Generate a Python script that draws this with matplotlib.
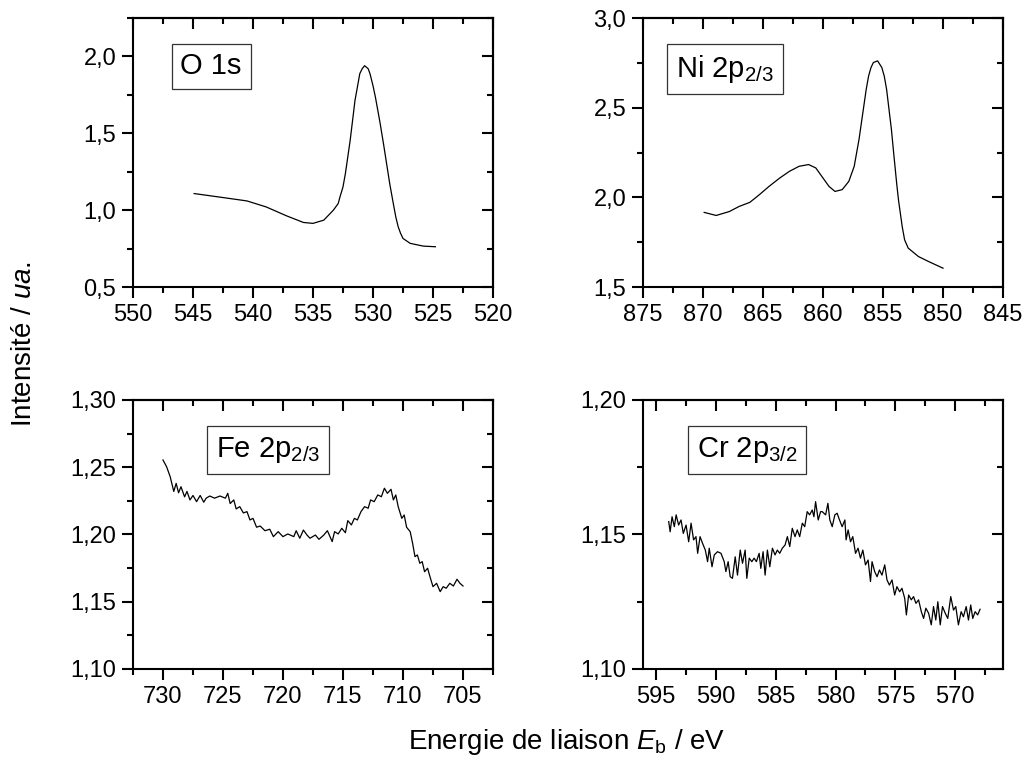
import matplotlib
matplotlib.use('Agg')
import matplotlib.pyplot as plt
from matplotlib.ticker import MultipleLocator, FuncFormatter, NullFormatter

plt.rcParams['font.family'] = ['Liberation Sans', 'DejaVu Sans']
plt.rcParams['mathtext.fontset'] = 'custom'
plt.rcParams['mathtext.rm'] = 'Liberation Sans'
plt.rcParams['mathtext.it'] = 'Liberation Sans:italic'

# O 1s
o_e = [544.9, 542.5, 540.5, 538.9, 537.2, 535.8, 535.0, 534.1, 533.3, 532.9, 532.75, 532.5,
       532.3, 532.1, 531.9, 531.7, 531.5, 531.3, 531.1, 530.9, 530.7, 530.4, 530.25, 530.0,
       529.8, 529.6, 529.4, 529.1, 528.9, 528.6, 528.3, 528.1, 527.9, 527.7, 527.5, 526.9,
       525.8, 524.8]
o_i = [1.108, 1.082, 1.06, 1.021, 0.963, 0.92, 0.914, 0.935, 1.0, 1.043, 1.086, 1.151,
       1.238, 1.346, 1.455, 1.584, 1.714, 1.80, 1.888, 1.92, 1.94, 1.92, 1.888, 1.81,
       1.736, 1.65, 1.563, 1.42, 1.32, 1.17, 1.04, 0.956, 0.892, 0.849, 0.816, 0.784,
       0.766, 0.762]

# Ni 2p
ni_e = [869.9, 868.9, 867.8, 867.0, 866.1, 865.3, 864.5, 863.6, 862.8, 862.0, 861.2, 860.6,
        860.1, 859.5, 859.0, 858.4, 857.85, 857.4, 857.2, 857.0, 856.8, 856.6, 856.4, 856.2,
        856.0, 855.8, 855.45, 855.1, 854.9, 854.7, 854.5, 854.3, 854.1, 853.85, 853.7, 853.4,
        853.2, 852.9, 852.05, 851.2, 850.0]
ni_i = [1.916, 1.899, 1.921, 1.949, 1.972, 2.015, 2.061, 2.108, 2.145, 2.173, 2.183, 2.164,
        2.117, 2.061, 2.033, 2.043, 2.089, 2.173, 2.248, 2.323, 2.416, 2.509, 2.602, 2.677,
        2.724, 2.752, 2.761, 2.724, 2.677, 2.602, 2.49, 2.379, 2.239, 2.07, 1.98, 1.837,
        1.763, 1.717, 1.670, 1.642, 1.605]

# Fe 2p
fe_e = [730.0, 729.7, 729.4, 729.1, 728.9, 728.7, 728.5, 728.2, 728.0, 727.75, 727.5, 727.2,
        726.9, 726.6, 726.4, 726.1, 725.7, 725.25, 724.8, 724.6, 724.4, 724.1, 723.9, 723.6,
        723.3, 723.0, 722.75, 722.5, 722.2, 721.9, 721.5, 721.1, 720.8, 720.4, 720.0, 719.6,
        719.1, 718.9, 718.6, 718.3, 718.0, 717.75, 717.3, 717.0, 716.6, 716.3, 715.9, 715.7,
        715.4, 715.1, 714.8, 714.6, 714.3, 714.05, 713.8, 713.5, 713.2, 712.9, 712.7, 712.4,
        712.1, 711.8, 711.55, 711.3, 711.0, 710.8, 710.6, 710.4, 710.1, 709.9, 709.7, 709.4,
        709.2, 709.0, 708.8, 708.6, 708.4, 708.2, 707.95, 707.75, 707.5, 707.2, 706.9, 706.65,
        706.4, 706.1, 705.8, 705.5, 705.25, 705.0]
fe_i = [1.2554, 1.2504, 1.243, 1.232, 1.238, 1.231, 1.2355, 1.228, 1.232, 1.2257, 1.229, 1.2244,
        1.229, 1.224, 1.227, 1.2286, 1.227, 1.2286, 1.227, 1.2306, 1.223, 1.2257, 1.219, 1.2207,
        1.216, 1.217, 1.2108, 1.212, 1.2054, 1.2063, 1.2028, 1.2039, 1.1984, 1.2021, 1.1984, 1.2004,
        1.1984, 1.2028, 1.1972, 1.2033, 1.1996, 1.1972, 1.1996, 1.1964, 1.1996, 1.2028, 1.1947, 1.2021,
        1.2004, 1.2046, 1.2013, 1.2103, 1.2071, 1.212, 1.2108, 1.217, 1.2207, 1.2195, 1.2257, 1.2244,
        1.2294, 1.2281, 1.2344, 1.2306, 1.2336, 1.2257, 1.2294, 1.2207, 1.212, 1.2145, 1.2054, 1.2021,
        1.1935, 1.1835, 1.1848, 1.1786, 1.1798, 1.1723, 1.1749, 1.1686, 1.1612, 1.1637, 1.1575, 1.1612,
        1.16, 1.1637, 1.1617, 1.1667, 1.1637, 1.1617]

# Cr 2p
cr_e = [593.95, 593.83, 593.67, 593.48, 593.33, 593.12, 592.92, 592.73, 592.5, 592.28, 592.08, 591.87,
        591.67, 591.53, 591.33, 591.12, 590.89, 590.7, 590.56, 590.33, 590.14, 589.87, 589.58, 589.31,
        589.17, 588.98, 588.81, 588.62, 588.39, 588.2, 587.97, 587.78, 587.56, 587.42, 587.22, 587.0,
        586.81, 586.62, 586.39, 586.25, 586.06, 585.89, 585.7, 585.5, 585.28, 585.06, 584.87, 584.67,
        584.45, 584.22, 584.03, 583.83, 583.62, 583.39, 583.2, 583.0, 582.78, 582.58, 582.37, 582.17,
        581.95, 581.81, 581.67, 581.45, 581.25, 581.12, 580.83, 580.64, 580.48, 580.28, 580.06, 579.87,
        579.67, 579.45, 579.22, 579.12, 578.95, 578.75, 578.56, 578.33, 578.12, 577.92, 577.72, 577.5,
        577.28, 577.08, 576.95, 576.73, 576.53, 576.33, 576.12, 575.89, 575.7, 575.5, 575.28, 575.06,
        574.87, 574.64, 574.45, 574.22, 574.08, 573.89, 573.67, 573.48, 573.28, 573.06, 572.83, 572.64,
        572.45, 572.22, 572.0, 571.81, 571.62, 571.45, 571.25, 571.06, 570.83, 570.62, 570.37, 570.14,
        569.95, 569.73, 569.5, 569.31, 569.08, 568.89, 568.7, 568.53, 568.33, 568.12, 567.92]
cr_i = [1.1548, 1.151, 1.1566, 1.1529, 1.1573, 1.1535, 1.1554, 1.1504, 1.1535, 1.1473, 1.1542, 1.148,
        1.1492, 1.143, 1.1492, 1.1467, 1.1442, 1.1399, 1.1449, 1.138, 1.1424, 1.1436, 1.143, 1.1399,
        1.1362, 1.1399, 1.1343, 1.1337, 1.1417, 1.1349, 1.1442, 1.1393, 1.1442, 1.1337, 1.1412, 1.1399,
        1.1412, 1.1399, 1.143, 1.1374, 1.1436, 1.1349, 1.1442, 1.138, 1.1449, 1.1424, 1.1442, 1.143,
        1.1449, 1.1461, 1.1492, 1.1455, 1.1523, 1.1492, 1.1517, 1.1492, 1.1542, 1.1529, 1.1585, 1.1573,
        1.1591, 1.1566, 1.1622, 1.1554, 1.1585, 1.1585, 1.1573, 1.1616, 1.1554, 1.1529, 1.1573, 1.1579,
        1.1554, 1.1529, 1.1554, 1.148, 1.1517, 1.1473, 1.1492, 1.143, 1.1449, 1.1412, 1.1442, 1.1387,
        1.1405, 1.1325, 1.1399, 1.1362, 1.1343, 1.1368, 1.1349, 1.1387, 1.1331, 1.1312, 1.1331, 1.1275,
        1.1306, 1.1287, 1.13, 1.1263, 1.1201, 1.1275, 1.1257, 1.1269, 1.1244, 1.1257, 1.1213, 1.1188,
        1.1226, 1.1207, 1.1164, 1.1232, 1.1182, 1.125, 1.1164, 1.1232, 1.1207, 1.1188, 1.1269, 1.1219,
        1.1232, 1.1164, 1.1213, 1.1194, 1.1232, 1.1182, 1.1238, 1.1188, 1.1213, 1.1201, 1.1222]

labels = ['O 1s', r'$\mathregular{Ni\ 2p_{2/3}}$', r'$\mathregular{Fe\ 2p_{2/3}}$', r'$\mathregular{Cr\ 2p_{3/2}}$']


def comma_fmt(nd):
    return FuncFormatter(lambda v, pos: f"{v:.{nd}f}".replace('.', ','))


def set_ticks(axis, step, direction):
    axis.set_major_locator(MultipleLocator(step))
    axis.set_minor_locator(MultipleLocator(step / 2))


fig = plt.figure(figsize=(10.26, 7.67), dpi=100)

panels = [
    # rect, x, y, xlim, ylim, ystep, decimals, label pos
    ([0.1296, 0.6258, 0.3509, 0.3507], o_e, o_i, (550, 520), (0.5, 2.25), 0.5, 1, (0.217, 0.82)),
    ([0.6267, 0.6258, 0.3509, 0.3507], ni_e, ni_i, (875, 845), (1.5, 3.0), 0.5, 1, (0.228, 0.81)),
    ([0.1296, 0.1278, 0.3509, 0.3507], fe_e, fe_i, (732.5, 702.5), (1.10, 1.30), 0.05, 2, (0.375, 0.815)),
    ([0.6267, 0.1278, 0.3509, 0.3507], cr_e, cr_i, (596.1, 566.0), (1.10, 1.20), 0.05, 2, (0.289, 0.814)),
]

for k, (rect, xs, ys, xl, yl, ystep, nd, lpos) in enumerate(panels):
    ax = fig.add_axes(rect)
    ax.plot(xs, ys, color='black', lw=0.9)
    ax.set_xlim(*xl)
    ax.set_ylim(*yl)
    set_ticks(ax.xaxis, 5, 'out')
    set_ticks(ax.yaxis, ystep, 'out')
    ax.yaxis.set_major_formatter(comma_fmt(nd))
    ax.tick_params(which='both', direction='out', width=1.5, labelsize=17, pad=4)
    ax.tick_params(which='major', length=8)
    ax.tick_params(which='minor', length=4.5)
    for s in ax.spines.values():
        s.set_linewidth(1.5)

    # top / right ticks point inward (Origin style)
    top = ax.secondary_xaxis('top')
    set_ticks(top.xaxis, 5, 'in')
    top.xaxis.set_major_formatter(NullFormatter())
    right = ax.secondary_yaxis('right')
    set_ticks(right.yaxis, ystep, 'in')
    right.yaxis.set_major_formatter(NullFormatter())
    for sec in (top, right):
        sec.tick_params(which='both', direction='in', width=1.5)
        sec.tick_params(which='major', length=8)
        sec.tick_params(which='minor', length=4.5)
        for s in sec.spines.values():
            s.set_linewidth(1.5)

    ax.text(lpos[0], lpos[1], labels[k], transform=ax.transAxes, ha='center', va='center',
            fontsize=21, bbox=dict(boxstyle='square,pad=0.3', fc='white', ec='#333333', lw=0.9))

fig.text(0.0234, 0.5515, r'Intensité / $\mathit{ua.}$', rotation=90, ha='center', va='center', fontsize=20)
fig.text(0.5526, 0.0326, r'Energie de liaison $\mathit{E}_\mathrm{b}$ / eV', ha='center', va='center', fontsize=20)

fig.savefig('out.png', dpi=100)
